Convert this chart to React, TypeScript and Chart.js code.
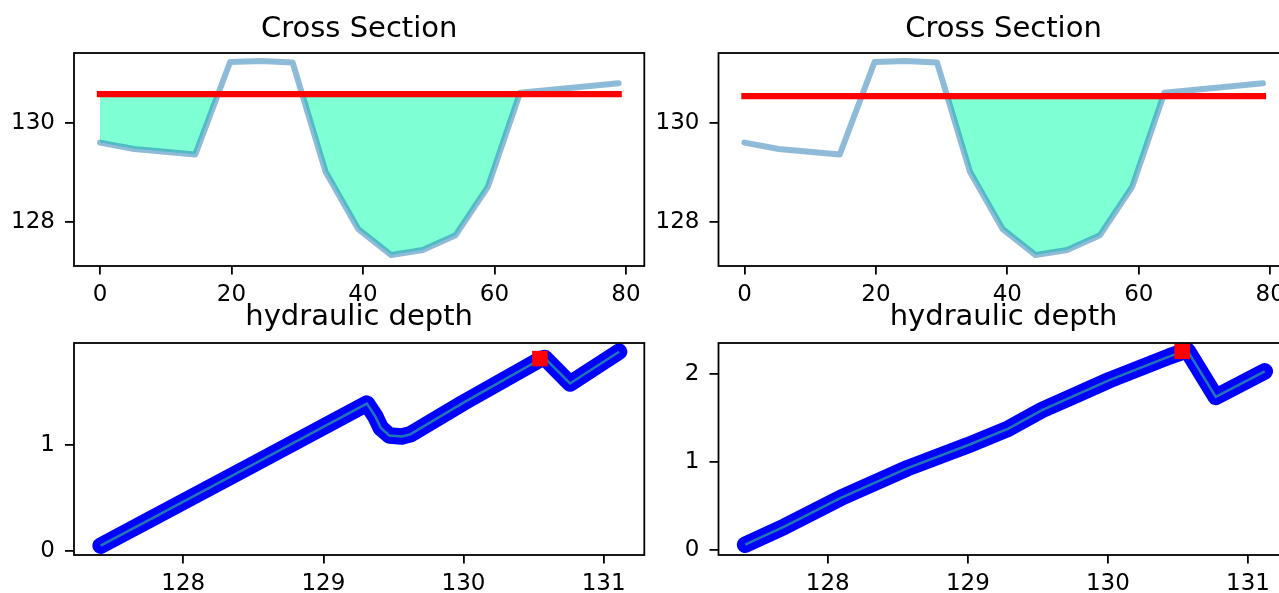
import React, { useEffect, useRef } from "react";
import { Chart, registerables } from "chart.js";

Chart.register(...registerables);
Chart.defaults.font.family = "'DejaVu Sans'";

// ---------------- data ----------------
// cross section: station (m) and ground elevation
const STATIONS = [0, 5.2, 14.5, 19.8, 24.5, 29.3, 34.3, 39.3, 44.3, 49.1, 54.1, 59.0, 63.9, 78.9];
const GROUND = [129.6, 129.47, 129.36, 131.22, 131.24, 131.21, 129.02, 127.86, 127.34, 127.44, 127.74, 128.71, 130.6, 130.79];
// water surface elevation of each panel
const WSE_LEFT = 130.575;
const WSE_RIGHT = 130.535;
// first station of the connected channel that is wetted in the right panel
const RIGHT_CHANNEL_FIRST = 5;

// hydraulic depth against stage, left panel
const STAGE_LEFT = [127.41, 127.71, 128.49, 129.31, 129.37, 129.41, 129.47, 129.56, 129.62, 130.0, 130.55, 130.58, 130.76, 131.11];
const DEPTH_LEFT = [0.05, 0.26, 0.81, 1.39, 1.27, 1.16, 1.09, 1.08, 1.1, 1.4, 1.81, 1.82, 1.58, 1.88];
// hydraulic depth against stage, right panel
const STAGE_RIGHT = [127.41, 127.69, 128.09, 128.57, 129.0, 129.29, 129.53, 129.77, 130.01, 130.25, 130.44, 130.53, 130.57, 130.77, 131.12];
const DEPTH_RIGHT = [0.06, 0.265, 0.59, 0.93, 1.19, 1.38, 1.59, 1.76, 1.93, 2.08, 2.2, 2.25, 2.26, 1.74, 2.03];
// current state (red square)
const CURRENT_STAGE = [130.545, 130.53];
const CURRENT_DEPTH = [1.815, 2.258];

// ticks and axis ranges
const XS_X_TICKS = [0, 20, 40, 60, 80];
const XS_Y_TICKS = [128, 130];
const HD_X_TICKS = [128, 129, 130, 131];
const HD_Y_TICKS_LEFT = [0, 1];
const HD_Y_TICKS_RIGHT = [0, 1, 2];
const XS_X_RANGE = [-3.95, 82.8];
const XS_Y_RANGE = [127.12, 131.4];
const HD_X_RANGE = [127.22, 131.29];
const HD_Y_RANGE_LEFT = [-0.038, 1.962];
const HD_Y_RANGE_RIGHT = [-0.057, 2.352];

const TITLE_XS = "Cross Section";
const TITLE_HD = "hydraulic depth";

// ---------------- layout ----------------
const TITLE_SPACE = 53;
const AXIS_SPACE = 72;
const BOTTOM_SPACE = 45;
const RIGHT_SPACE = 14;
const TICK_FONT = 23;
const TITLE_FONT = 29;

type Box = { left: number; right: number; top: number; bottom: number };

const BOX_TL: Box = { left: 74, right: 644.3, top: 53, bottom: 266 };
const BOX_TR: Box = { left: 718.5, right: 1288.6, top: 53, bottom: 266 };
const BOX_BL: Box = { left: 74, right: 644.3, top: 343, bottom: 555 };
const BOX_BR: Box = { left: 718.5, right: 1288.6, top: 343, bottom: 555 };

function frameFor(box: Box) {
  const cl = Math.floor(box.left - AXIS_SPACE);
  const ct = box.top - TITLE_SPACE;
  const cw = Math.ceil(box.right - cl + RIGHT_SPACE);
  const ch = TITLE_SPACE + (box.bottom - box.top) + BOTTOM_SPACE;
  return { cl, ct, cw, ch, yAxisWidth: box.left - cl, padRight: cw - (box.right - cl) };
}

function framePlugin(title: string, baselineOffset: number) {
  return {
    id: "frame",
    afterDraw(chart: any) {
      const { ctx, chartArea: a } = chart;
      ctx.save();
      ctx.strokeStyle = "#000";
      ctx.lineWidth = 1.8;
      ctx.strokeRect(a.left, a.top, a.right - a.left, a.bottom - a.top);
      ctx.fillStyle = "#000";
      ctx.font = `${TITLE_FONT}px 'DejaVu Sans'`;
      ctx.textAlign = "center";
      ctx.textBaseline = "alphabetic";
      ctx.fillText(title, (a.left + a.right) / 2, a.top - baselineOffset);
      ctx.restore();
    },
  };
}

function axis(range: number[], ticks: number[], isX: boolean, fixed: number) {
  return {
    type: "linear",
    min: range[0],
    max: range[1],
    afterBuildTicks: (s: any) => {
      s.ticks = ticks.map((v) => ({ value: v }));
    },
    afterFit: (s: any) => {
      if (isX) s.height = fixed;
      else s.width = fixed;
    },
    border: { display: false },
    grid: {
      display: true,
      drawOnChartArea: false,
      drawTicks: true,
      tickLength: isX ? 8.5 : 9,
      tickWidth: 1.8,
      lineWidth: 1.8,
      tickColor: "#000",
    },
    ticks: {
      color: "#000",
      font: { family: "'DejaVu Sans'", size: TICK_FONT },
      padding: isX ? 6.5 : 10,
      autoSkip: false,
      maxRotation: 0,
      minRotation: 0,
      callback: (v: any) => String(v),
    },
  };
}

function baseOptions(box: Box, xr: number[], yr: number[], xt: number[], yt: number[]) {
  const f = frameFor(box);
  return {
    responsive: false,
    animation: false,
    devicePixelRatio: 1,
    events: [],
    layout: { padding: { top: TITLE_SPACE, right: f.padRight, left: 0, bottom: 0 } },
    plugins: { legend: { display: false }, tooltip: { enabled: false }, title: { display: false } },
    scales: {
      x: axis(xr, xt, true, BOTTOM_SPACE),
      y: axis(yr, yt, false, f.yAxisWidth),
    },
  };
}

function crossSectionConfig(box: Box, wse: number, firstWet: number) {
  const ground = STATIONS.map((x, i) => ({ x, y: GROUND[i] }));
  const water = STATIONS.map((x) => ({ x, y: wse }));
  const wet = STATIONS.slice(firstWet).map((x) => ({ x, y: wse }));
  return {
    type: "line",
    data: {
      datasets: [
        {
          label: "ground",
          data: ground,
          borderColor: "rgba(31,119,180,0.5)",
          borderWidth: 6,
          borderJoinStyle: "round",
          borderCapStyle: "round",
          pointRadius: 0,
          fill: false,
          order: 1,
        },
        {
          label: "water surface",
          data: water,
          borderColor: "#ff0000",
          borderWidth: 6.3,
          borderCapStyle: "square",
          pointRadius: 0,
          fill: false,
          order: 0,
        },
        {
          label: "wetted area",
          data: wet,
          borderColor: "rgba(0,0,0,0)",
          borderWidth: 1,
          pointRadius: 0,
          fill: { target: 0, above: "#7fffd4", below: "rgba(0,0,0,0)" },
          order: 2,
        },
      ],
    },
    options: baseOptions(box, XS_X_RANGE, XS_Y_RANGE, XS_X_TICKS, XS_Y_TICKS),
    plugins: [framePlugin(TITLE_XS, 15.6)],
  };
}

function depthConfig(box: Box, stages: number[], depths: number[], idx: number, yr: number[], yt: number[]) {
  const curve = stages.map((x, i) => ({ x, y: depths[i] }));
  return {
    type: "line",
    data: {
      datasets: [
        {
          label: "current",
          data: [{ x: CURRENT_STAGE[idx], y: CURRENT_DEPTH[idx] }],
          showLine: false,
          pointStyle: "rect",
          pointRadius: 11,
          pointBackgroundColor: "#ff0000",
          pointBorderWidth: 0,
          pointBorderColor: "#ff0000",
          clip: false,
          order: 0,
        },
        {
          label: "depth line",
          data: curve,
          borderColor: "#1f77b4",
          borderWidth: 2.5,
          pointRadius: 0,
          fill: false,
          order: 1,
        },
        {
          label: "depth points",
          data: curve,
          borderColor: "#0000ff",
          borderWidth: 16.5,
          borderJoinStyle: "round",
          borderCapStyle: "round",
          pointRadius: 0,
          fill: false,
          order: 2,
        },
      ],
    },
    options: baseOptions(box, HD_X_RANGE, yr, HD_X_TICKS, yt),
    plugins: [framePlugin(TITLE_HD, 18)],
  };
}

function Panel({ box, make }: { box: Box; make: () => any }) {
  const ref = useRef<HTMLCanvasElement>(null);
  const f = frameFor(box);
  useEffect(() => {
    const chart = new Chart(ref.current as HTMLCanvasElement, make());
    return () => chart.destroy();
  }, []);
  return (
    <canvas
      ref={ref}
      width={f.cw}
      height={f.ch}
      style={{ position: "absolute", left: f.cl, top: f.ct, width: f.cw, height: f.ch }}
    />
  );
}

export default function App() {
  return (
    <div
      style={{
        position: "fixed",
        left: 0,
        top: 0,
        width: 1279,
        height: 593,
        overflow: "hidden",
        background: "#ffffff",
      }}
    >
      <Panel box={BOX_TL} make={() => crossSectionConfig(BOX_TL, WSE_LEFT, 0)} />
      <Panel box={BOX_TR} make={() => crossSectionConfig(BOX_TR, WSE_RIGHT, RIGHT_CHANNEL_FIRST)} />
      <Panel
        box={BOX_BL}
        make={() => depthConfig(BOX_BL, STAGE_LEFT, DEPTH_LEFT, 0, HD_Y_RANGE_LEFT, HD_Y_TICKS_LEFT)}
      />
      <Panel
        box={BOX_BR}
        make={() => depthConfig(BOX_BR, STAGE_RIGHT, DEPTH_RIGHT, 1, HD_Y_RANGE_RIGHT, HD_Y_TICKS_RIGHT)}
      />
    </div>
  );
}
